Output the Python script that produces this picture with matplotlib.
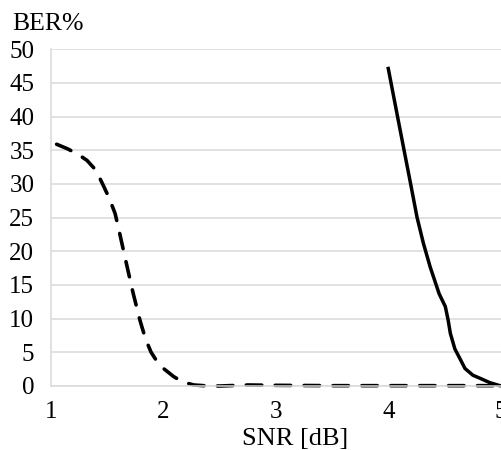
import matplotlib
matplotlib.use("Agg")
import matplotlib.pyplot as plt

plt.rcParams['font.family'] = ['Liberation Serif', 'DejaVu Serif']

# Dashed series
dash_x = [1.05, 1.15, 1.25, 1.32, 1.38, 1.43, 1.47, 1.52, 1.57, 1.61, 1.67, 1.73, 1.79, 1.84, 1.89, 1.94, 2.0, 2.09, 2.17, 2.27, 2.4, 2.5, 2.75, 3.0, 3.5, 4.0, 4.5, 5.0]
dash_y = [35.9, 35.2, 34.3, 33.5, 32.4, 31.0, 29.6, 27.8, 25.6, 22.7, 18.2, 13.8, 9.8, 7.0, 5.0, 3.7, 2.6, 1.4, 0.6, 0.15, 0.0, 0.0, 0.15, 0.1, 0.05, 0.05, 0.05, 0.05]

# Solid series
solid_x = [3.995, 4.07, 4.135, 4.19, 4.253, 4.31, 4.37, 4.45, 4.505, 4.53, 4.55, 4.59, 4.64, 4.68, 4.75, 4.82, 4.9, 5.0]
solid_y = [47.4, 40.9, 35.3, 30.6, 25.1, 21.2, 17.7, 13.7, 11.8, 9.8, 7.8, 5.5, 3.9, 2.6, 1.6, 1.1, 0.5, 0.0]

x_ticks = [1, 2, 3, 4, 5]
y_ticks = [0, 5, 10, 15, 20, 25, 30, 35, 40, 45, 50]

W, H = 502, 450
fig = plt.figure(figsize=(W / 100, H / 100), dpi=100)
ax = fig.add_axes([51 / W, 1 - 386 / H, 450 / W, (386 - 49.3) / H])

ax.set_xlim(1, 5)
ax.set_ylim(0, 50)
ax.set_xticks(x_ticks)
ax.set_yticks(y_ticks)
ax.grid(axis='y', color='#d9d9d9', linewidth=1.1)
ax.set_axisbelow(True)
for s in ['top', 'right']:
    ax.spines[s].set_visible(False)
ax.spines['left'].set_color('#d9d9d9')
ax.spines['bottom'].set_color('#d9d9d9')
ax.spines['left'].set_linewidth(1.1)
ax.spines['bottom'].set_linewidth(1.1)
ax.tick_params(axis='both', length=0, labelsize=18, colors='black')
ax.tick_params(axis='y', pad=12)
ax.tick_params(axis='x', pad=11)

ax.plot(dash_x, dash_y, color='black', linewidth=2.6, linestyle=(0, (4.3, 3.7)),
        dash_capstyle='round', solid_joinstyle='round', clip_on=False)
ax.plot(solid_x, solid_y, color='black', linewidth=2.5, solid_capstyle='butt',
        solid_joinstyle='round', clip_on=False)

fig.text(12 / W, 1 - 30 / H, 'BER%', ha='left', va='baseline', fontsize=18.5)
fig.text(295.5 / W, 1 - 445 / H, 'SNR [dB]', ha='center', va='baseline', fontsize=19)

fig.savefig('out.png', dpi=100)
